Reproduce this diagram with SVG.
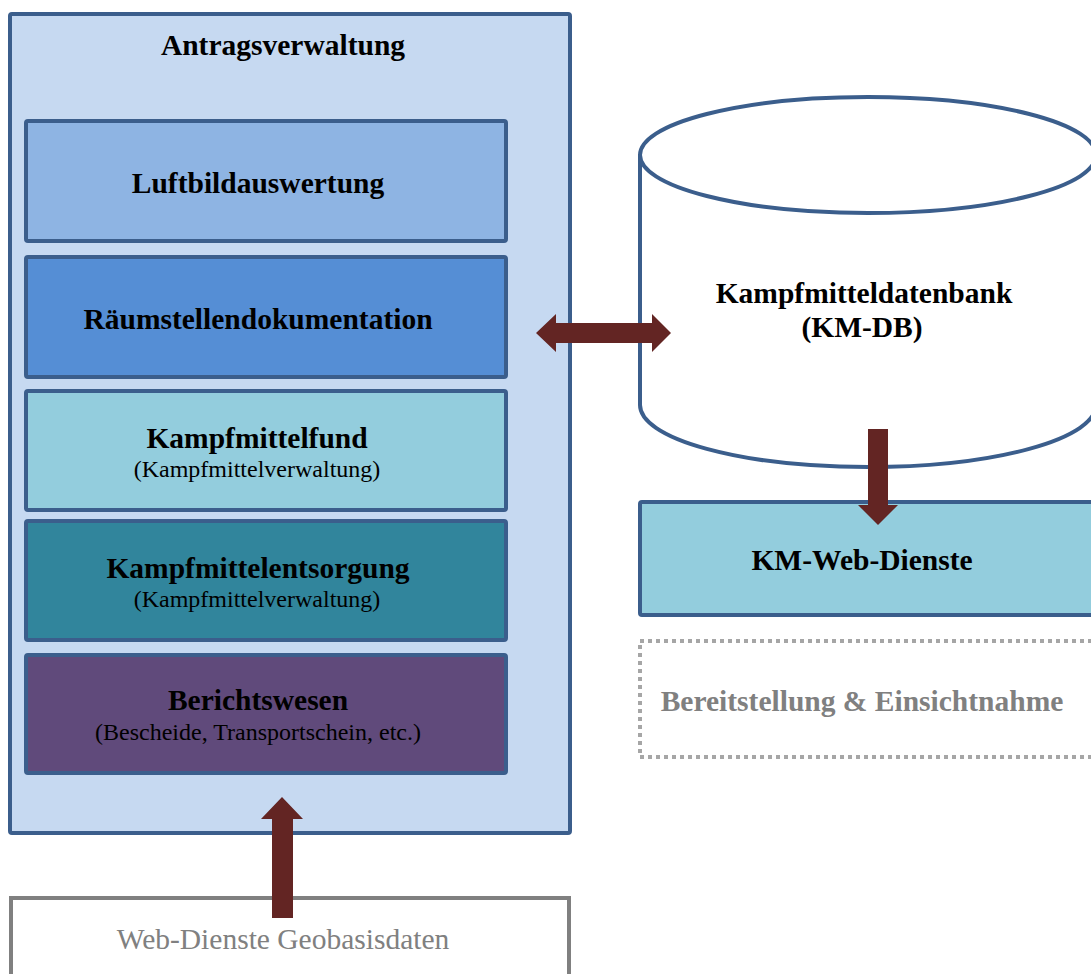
<svg xmlns="http://www.w3.org/2000/svg" width="1091" height="974" viewBox="0 0 1091 974">
<style>
.box{stroke:#3B5E8C;stroke-width:4;}
.t{font-family:"Liberation Serif","Times New Roman",serif;text-anchor:middle;fill:#000;}
.b{font-weight:bold;font-size:29.5px;}
.s{font-size:24px;}
.g{fill:#808080;}
.arrow{fill:#632523;}
</style>
<rect width="1091" height="974" fill="#fff"/>
<g id="antragsverwaltung">
<rect class="box" x="10" y="14" width="560" height="819" rx="2" fill="#C6D9F1"/>
<text class="t b" x="283" y="55">Antragsverwaltung</text>
</g>
<g id="luftbildauswertung">
<rect class="box" x="26" y="121" width="480" height="120" rx="2" fill="#8EB4E3"/>
<text class="t b" x="258" y="193">Luftbildauswertung</text>
</g>
<g id="raeumstellendokumentation">
<rect class="box" x="26" y="257" width="480" height="120" rx="2" fill="#558ED5"/>
<text class="t b" x="258" y="329">Räumstellendokumentation</text>
</g>
<g id="kampfmittelfund">
<rect class="box" x="26" y="391" width="480" height="119" rx="2" fill="#93CDDD"/>
<text class="t b" x="257" y="448">Kampfmittelfund</text>
<text class="t s" x="257" y="477">(Kampfmittelverwaltung)</text>
</g>
<g id="kampfmittelentsorgung">
<rect class="box" x="26" y="521" width="480" height="119" rx="2" fill="#31859C"/>
<text class="t b" x="258" y="578">Kampfmittelentsorgung</text>
<text class="t s" x="257" y="607">(Kampfmittelverwaltung)</text>
</g>
<g id="berichtswesen">
<rect class="box" x="26" y="655" width="480" height="118" rx="2" fill="#604A7B"/>
<text class="t b" x="258" y="710">Berichtswesen</text>
<text class="t s" x="258" y="740">(Bescheide, Transportschein, etc.)</text>
</g>
<g id="km-db">
<path class="box" fill="#fff" d="M640,154 L640,405 A228,62 0 0 0 1096,405 L1096,154"/>
<ellipse class="box" fill="#fff" cx="868" cy="155" rx="228" ry="58"/>
<text class="t b" x="864" y="303">Kampfmitteldatenbank</text>
<text class="t b" x="862" y="337">(KM-DB)</text>
</g>
<g id="km-web-dienste">
<rect class="box" x="640" y="502" width="460" height="113" rx="2" fill="#93CDDD"/>
<text class="t b" x="862" y="570">KM-Web-Dienste</text>
</g>
<g id="bereitstellung">
<rect x="640" y="641" width="460" height="116" fill="none" stroke="#A6A6A6" stroke-width="4" stroke-dasharray="4 4"/>
<text class="t b g" x="862" y="711">Bereitstellung &amp; Einsichtnahme</text>
</g>
<g id="web-dienste-geobasisdaten">
<rect x="11" y="898" width="558" height="90" fill="#fff" stroke="#808080" stroke-width="4"/>
<text class="t g" x="283" y="949" font-size="29.5">Web-Dienste Geobasisdaten</text>
</g>
<g id="connectors">
<polygon class="arrow" points="536,333 556,314 556,323 652,323 652,314 671,333 652,352 652,343 556,343 556,352"/>
<polygon class="arrow" points="868,429 888,429 888,505 898,505 878,525 858,505 868,505"/>
<polygon class="arrow" points="272,918 293,918 293,819 303,819 282,797 261,819 272,819"/>
</g>
</svg>
